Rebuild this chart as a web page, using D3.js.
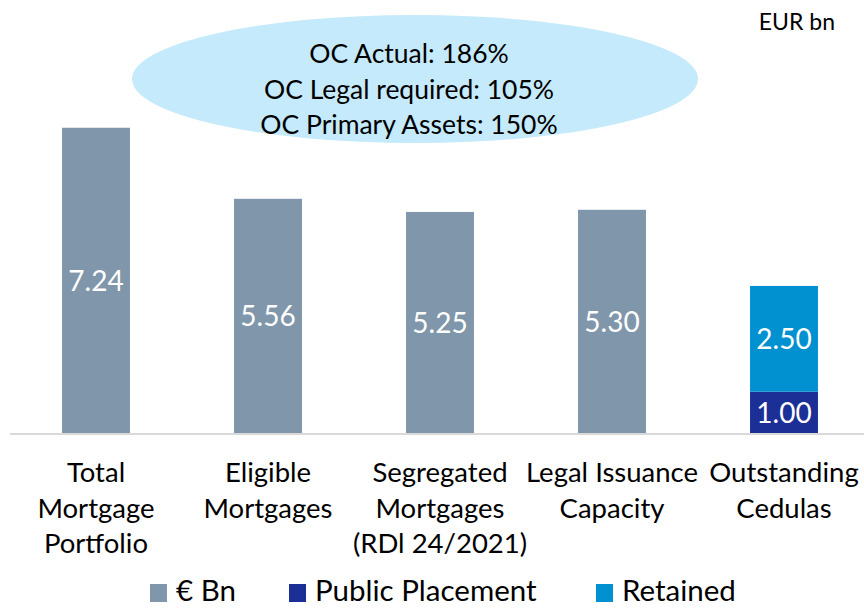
<!DOCTYPE html>
<html>
<head>
<meta charset="utf-8">
<script src="https://cdn.jsdelivr.net/npm/d3@7"></script>
<style>
  body { margin: 0; background: #fff; }
  svg { display: block; font-family: Lato, "Open Sans", sans-serif; }
</style>
</head>
<body>
<svg id="chart" width="864" height="608"></svg>
<script>
// data
const categories = [
  ["Total", "Mortgage", "Portfolio"],
  ["Eligible", "Mortgages"],
  ["Segregated", "Mortgages", "(RDl 24/2021)"],
  ["Legal Issuance", "Capacity"],
  ["Outstanding", "Cedulas"]
];
const totals = [7.24, 5.56, 5.25, 5.30, null];
const publicPlacement = [null, null, null, null, 1.00];
const retained = [null, null, null, null, 2.50];
const ocLines = ["OC Actual: 186%", "OC Legal required: 105%", "OC Primary Assets: 150%"];
const legendItems = ["€ Bn", "Public Placement", "Retained"];
const colors = ["#8096aa", "#1b2f96", "#0191d1"];

const width = 864, height = 608;
const margin = { top: 0, right: -6, bottom: 174, left: 10 };

const svg = d3.select("#chart");

const x = d3.scaleBand()
  .domain(d3.range(categories.length))
  .range([margin.left, width - margin.right])
  .paddingInner(0.605)
  .paddingOuter(0.3025);

const y = d3.scaleLinear()
  .domain([0, 8])
  .range([height - margin.bottom, height - margin.bottom - 8 * 42.3]);

// OC ellipse (drawn first so the first bar sits over it)
svg.append("ellipse")
  .attr("cx", 415).attr("cy", 79)
  .attr("rx", 283).attr("ry", 64)
  .attr("fill", "#c5eafb");

// plain grey bars
const grey = totals.map((v, i) => ({ i, v })).filter(d => d.v != null);
svg.append("g").attr("fill", colors[0])
  .selectAll("rect")
  .data(grey)
  .join("rect")
  .attr("x", d => x(d.i))
  .attr("y", d => y(d.v))
  .attr("width", x.bandwidth())
  .attr("height", d => y(0) - y(d.v));

svg.append("g")
  .selectAll("text")
  .data(grey)
  .join("text")
  .attr("x", d => x(d.i) + x.bandwidth() / 2)
  .attr("y", d => (y(d.v) + y(0)) / 2)
  .attr("dy", "0.35em")
  .attr("text-anchor", "middle")
  .attr("fill", "#fff")
  .attr("font-size", 28)
  .text(d => d.v.toFixed(2));

// stacked bar
const stacked = [];
publicPlacement.forEach((v, i) => {
  if (v == null) return;
  stacked.push({ i, y0: 0, y1: v, v, c: colors[1] });
  stacked.push({ i, y0: v, y1: v + retained[i], v: retained[i], c: colors[2] });
});

svg.append("g")
  .selectAll("rect")
  .data(stacked)
  .join("rect")
  .attr("x", d => x(d.i))
  .attr("y", d => y(d.y1))
  .attr("width", x.bandwidth())
  .attr("height", d => y(d.y0) - y(d.y1))
  .attr("fill", d => d.c);

svg.append("g")
  .selectAll("text")
  .data(stacked)
  .join("text")
  .attr("x", d => x(d.i) + x.bandwidth() / 2)
  .attr("y", d => (y(d.y0) + y(d.y1)) / 2)
  .attr("dy", "0.35em")
  .attr("text-anchor", "middle")
  .attr("fill", "#fff")
  .attr("font-size", 28)
  .text(d => d.v.toFixed(2));

// x axis
const xAxis = svg.append("g")
  .attr("transform", `translate(0, ${y(0)})`)
  .call(d3.axisBottom(x).tickSize(0).tickFormat(""));
xAxis.select(".domain").attr("stroke", "#d9d9d9").attr("stroke-width", 2)
  .attr("d", `M${margin.left},0H${width}`);

const labels = svg.append("g")
  .selectAll("text")
  .data(categories.map((c, i) => ({ c, i })))
  .join("text")
  .attr("text-anchor", "middle")
  .attr("font-size", 27.5)
  .attr("fill", "#000");
labels.selectAll("tspan")
  .data(d => d.c.map(line => ({ line, i: d.i })))
  .join("tspan")
  .attr("x", d => x(d.i) + x.bandwidth() / 2)
  .attr("y", (d, j) => 482 + j * 35.5)
  .text(d => d.line);

// OC text
svg.append("g")
  .selectAll("text")
  .data(ocLines)
  .join("text")
  .attr("x", 409)
  .attr("y", (d, i) => 63 + i * 35.5)
  .attr("text-anchor", "middle")
  .attr("font-size", 26.5)
  .text(d => d);

svg.append("text")
  .attr("x", 835).attr("y", 30)
  .attr("text-anchor", "end")
  .attr("font-size", 23)
  .text("EUR bn");

// legend (kept just inside the bottom edge so descenders are not clipped)
const legendX = [150, 289, 596];
const legend = svg.append("g")
  .selectAll("g")
  .data(legendItems)
  .join("g")
  .attr("transform", (d, i) => `translate(${legendX[i]}, 601)`);
legend.append("rect")
  .attr("y", -17).attr("width", 17).attr("height", 18)
  .attr("fill", (d, i) => colors[i]);
legend.append("text")
  .attr("x", 26)
  .attr("font-size", 29.5)
  .text(d => d);
</script>
</body>
</html>
